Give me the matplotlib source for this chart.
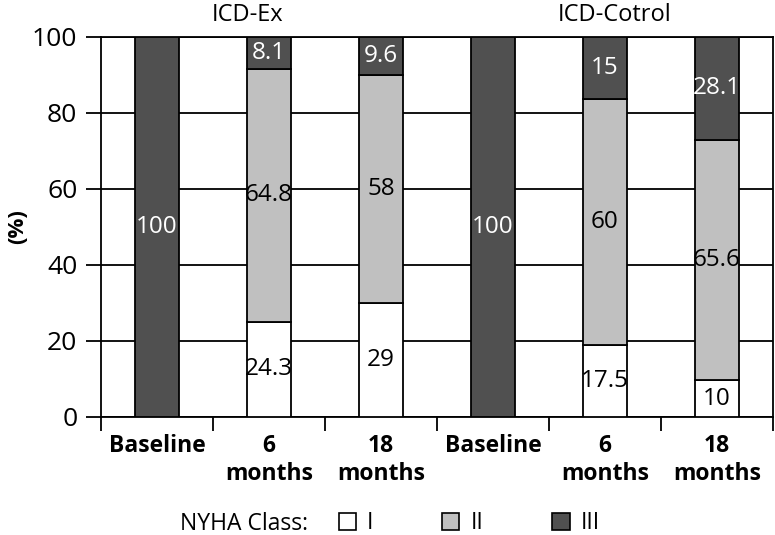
#Stacked bars of NYHA class at baseline, 6 and 18 months

import numpy as np
import matplotlib
matplotlib.use('Agg')
import matplotlib.pyplot as plt
from matplotlib.patches import Patch

plt.rcParams['font.family'] = ['Open Sans', 'DejaVu Sans']

#Data (labels as printed, bars drawn normalised to 100%)
groups = ['ICD-Ex', 'ICD-Cotrol']
timepoints = ['Baseline', '6\nmonths', '18\nmonths']
class_I = [0, 24.3, 29, 0, 17.5, 10]
class_II = [0, 64.8, 58, 0, 60, 65.6]
class_III = [100, 8.1, 9.6, 100, 15, 28.1]
yticks = [0, 20, 40, 60, 80, 100]

colors = ['white', '#c0c0c0', '#505050']
txtcol = ['black', 'black', 'white']
names = ['I', 'II', 'III']

fig = plt.figure(figsize=(7.75, 5.35), dpi=100)
ax = fig.add_axes([0.1303, 0.2206, 0.8671, 0.7103])

x = np.arange(len(class_I))
series = np.array([class_I, class_II, class_III], dtype=float)
total = series.sum(axis=0)
heights = series / total * 100

bottom = np.zeros(len(x))
for k in range(3):
    ax.bar(x, heights[k], 0.4, bottom=bottom, color=colors[k], edgecolor='black', linewidth=1.3, zorder=3)
    for i in range(len(x)):
        if series[k, i] > 0:
            ax.text(x[i], bottom[i] + heights[k, i] / 2, '%g' % series[k, i], ha='center', va='center',
                    fontsize=17.5, color=txtcol[k], zorder=4)
    bottom = bottom + heights[k]

ax.set_xlim(-0.5, 5.5)
ax.set_ylim(0, 100)
ax.set_yticks(yticks)
ax.yaxis.grid(True, color='black', linewidth=1.3, zorder=0)
ax.tick_params(axis='y', length=11, width=1.3, pad=6, labelsize=19)
ax.set_xticks(x)
ax.set_xticklabels(timepoints * 2, fontsize=16.5, fontweight='bold', linespacing=1.25)
ax.tick_params(axis='x', which='major', length=0, pad=12)
ax.set_xticks(np.arange(-0.5, 6, 1), minor=True)
ax.tick_params(axis='x', which='minor', length=10, width=1.3)
for s in ax.spines.values():
    s.set_linewidth(1.3)
ax.set_ylabel('(%)', fontsize=16, fontweight='bold', labelpad=3)

for g, xc in zip(groups, [0.81, 4.09]):
    ax.text(xc, 102.5, g, ha='center', va='bottom', fontsize=17)

#Legend at the bottom
fig.text(0.398, 0.0093, 'NYHA Class:', ha='right', va='baseline', fontsize=16.5)
handles = [Patch(facecolor=c, edgecolor='black', linewidth=1.2) for c in colors]
fig.legend(handles, names, loc='lower left', bbox_to_anchor=(0.425, -0.018), ncol=3, frameon=False,
           fontsize=16.5, handlelength=0.75, handleheight=0.75, handletextpad=0.5, columnspacing=3.0,
           borderpad=0.2, borderaxespad=0.2)

plt.savefig('out.png', dpi=100)
